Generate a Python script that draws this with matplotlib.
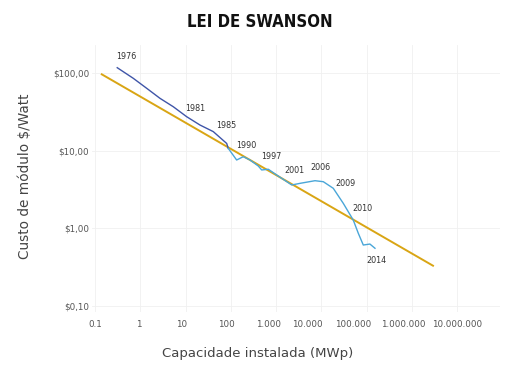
import numpy as np
import matplotlib
matplotlib.use("Agg")
import matplotlib.pyplot as plt
from matplotlib.ticker import FixedLocator, FixedFormatter, NullLocator
from matplotlib.transforms import ScaledTranslation

# Swanson trend line (MWp, $/W)
trend_mw = [0.141, 2.95e6]
trend_price = [96.2, 0.331]

# Observed module price curve, early part (dark blue) and later part (light blue)
early_mw = [0.31, 0.70, 1.39, 2.73, 5.37, 10.6, 20.9, 41.1, 81.3, 88.3]
early_price = [117, 85.5, 63.5, 47.2, 36.8, 27.4, 21.4, 17.6, 12.4, 10.7]
late_mw = [88.3, 135, 189, 266, 406, 483, 676, 1037, 2225, 3390, 7270, 11100,
           18450, 30700, 51000, 65900, 84900, 119000, 154000]
late_price = [10.7, 7.59, 8.37, 7.59, 6.35, 5.65, 5.77, 4.87, 3.62, 3.80, 4.11, 3.99,
              3.28, 2.10, 1.28, 0.865, 0.611, 0.629, 0.555]

# Year annotations
years = ["1976", "1981", "1985", "1990", "1997", "2001", "2006", "2009", "2010", "2014"]
year_mw = [0.50, 16.0, 78.0, 215, 780, 2500, 9500, 33500, 83000, 168000]
year_price = [162, 35.0, 20.8, 11.5, 8.5, 5.5, 6.0, 3.78, 1.83, 0.385]

xticks = [0.1, 1, 10, 100, 1e3, 1e4, 1e5, 1e6, 1e7]
xlabels = ["0.1", "1", "10", "100", "1.000", "10.000", "100.000", "1.000.000", "10.000.000"]
yticks = [0.1, 1, 10, 100]
ylabels = ["$0,10", "$1,00", "$10,00", "$100,00"]

plt.rcParams['font.family'] = ['DejaVu Sans']

fig = plt.figure(figsize=(5.08, 3.72), dpi=100)
ax = fig.add_axes([92 / 508, 1 - 312 / 372, 408 / 508, 267 / 372])

ax.set_xscale("log")
ax.set_yscale("log")
ax.set_xlim(10 ** (-1 - 3 / 45.25), 10 ** (-1 + 405 / 45.25))
ax.set_ylim(10 ** (2 - 239 / 77.7), 10 ** (2 + 28 / 77.7))

ax.grid(True, which="major", color="#f0f0f0", linewidth=0.6)
ax.set_axisbelow(True)

ax.plot(trend_mw, trend_price, color="#d9a514", linewidth=1.4, zorder=2)
ax.plot(early_mw, early_price, color="#3f55a8", linewidth=1.0, zorder=3)
ax.plot(late_mw, late_price, color="#4aa6d8", linewidth=1.0, zorder=3)

for yr, xm, yp in zip(years, year_mw, year_price):
    ax.text(xm, yp, yr, fontsize=5.8, color="#333333", ha="center", va="center")

ax.xaxis.set_major_locator(FixedLocator(xticks))
ax.xaxis.set_major_formatter(FixedFormatter(xlabels))
ax.xaxis.set_minor_locator(NullLocator())
ax.yaxis.set_major_locator(FixedLocator(yticks))
ax.yaxis.set_major_formatter(FixedFormatter(ylabels))
ax.yaxis.set_minor_locator(NullLocator())
ax.tick_params(axis="both", length=0, labelsize=6.3, labelcolor="#555555")
ax.tick_params(axis="x", pad=6)
ax.tick_params(axis="y", pad=2)

# the original squeezes the big labels together a bit
nudge = [0, -1, -4, -4, -7, -14, -13, -8, 0]
for lab, dx in zip(ax.get_xticklabels(), nudge):
    lab.set_transform(lab.get_transform() + ScaledTranslation(dx / 100, 0, fig.dpi_scale_trans))

for s in ax.spines.values():
    s.set_visible(False)

fig.text(258 / 508, 1 - 353 / 372, "Capacidade instalada (MWp)", fontsize=9.5,
         color="#444444", ha="center", va="center")
fig.text(25 / 508, 1 - 176 / 372, "Custo de módulo $/Watt", fontsize=9.8,
         color="#444444", ha="center", va="center", rotation=90)

fig.text(260 / 508, 1 - 22 / 372, "LEI DE SWANSON", fontsize=12, fontweight="heavy",
         fontstretch="condensed", color="#111111", ha="center", va="center")

fig.savefig("out.png", dpi=100, facecolor="white")
